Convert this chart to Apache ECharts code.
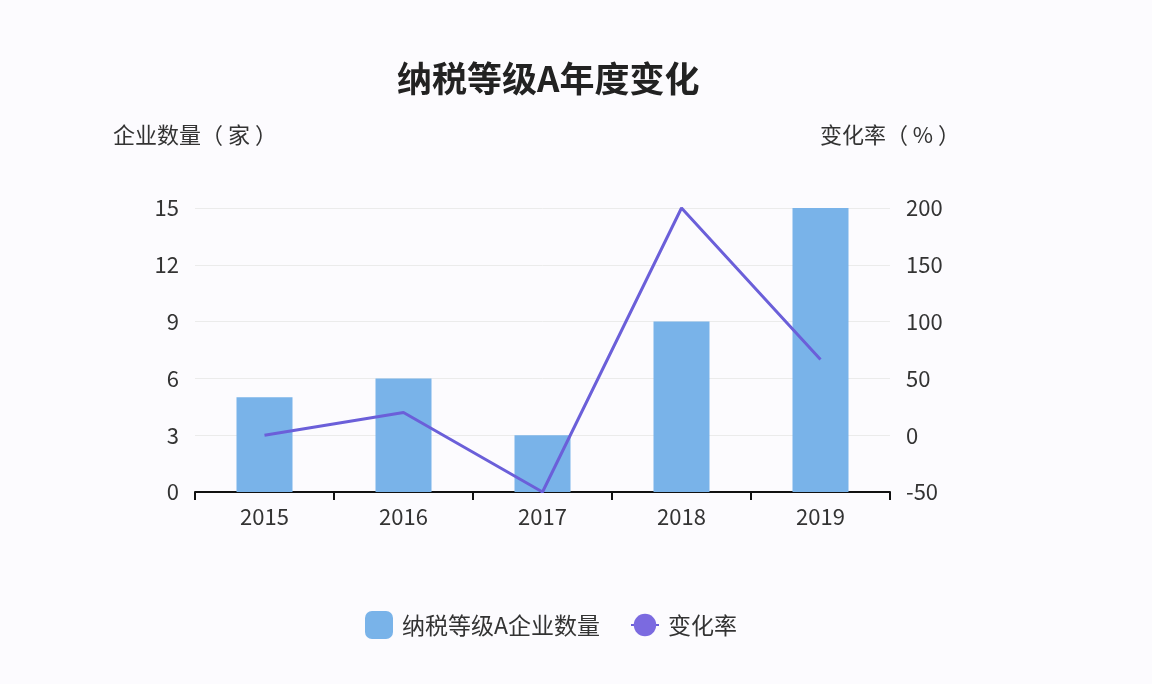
<!DOCTYPE html>
<html>
<head>
<meta charset="utf-8">
<script src="https://cdn.jsdelivr.net/npm/echarts@6/dist/echarts.min.js"></script>
<style>
  html, body { margin: 0; padding: 0; background: #fcfbfe; }
  #main { width: 1152px; height: 684px; }
</style>
</head>
<body>
<div id="main"></div>
<script>
var years = ['2015', '2016', '2017', '2018', '2019'];
var companyCount = [5, 6, 3, 9, 15];
var changeRate = [0, 20, -50, 200, 66.67];

var font = '"Noto Sans CJK SC", "Noto Sans", sans-serif';
var chart = echarts.init(document.getElementById('main'));

var option = {
    backgroundColor: '#fcfbfe',
    textStyle: { fontFamily: font },
    title: {
        text: '纳税等级A年度变化',
        left: 392,
        top: 56,
        textStyle: { fontSize: 35, fontWeight: 'bold', color: '#222', fontFamily: font }
    },
    legend: {
        bottom: 40,
        left: 360,
        itemWidth: 28,
        itemHeight: 28,
        itemGap: 30,
        textStyle: { fontSize: 23, color: '#333', padding: [0, 0, 0, 4] },
        data: [
            { name: '纳税等级A企业数量', icon: 'roundRect' },
            { name: '变化率' }
        ]
    },
    grid: { left: 195, right: 262, top: 208, bottom: 192 },
    xAxis: {
        type: 'category',
        data: years,
        axisLine: { lineStyle: { color: '#111', width: 2 } },
        axisTick: { show: true, length: 8, lineStyle: { color: '#111', width: 2 } },
        axisLabel: { fontSize: 22, color: '#333', margin: 14 }
    },
    yAxis: [{
        type: 'value',
        name: '企业数量（ 家 ）',
        nameGap: 62,
        nameTextStyle: { fontSize: 22, color: '#333' },
        min: 0, max: 15, interval: 3,
        axisLine: { show: false },
        axisTick: { show: false },
        axisLabel: { fontSize: 22, color: '#333', margin: 16 },
        splitLine: { lineStyle: { color: '#ebebeb' } }
    }, {
        type: 'value',
        name: '变化率（ % ）',
        nameGap: 62,
        nameTextStyle: { fontSize: 22, color: '#333' },
        min: -50, max: 200, interval: 50,
        axisLine: { show: false },
        axisTick: { show: false },
        axisLabel: { fontSize: 22, color: '#333', margin: 16 },
        splitLine: { show: false }
    }],
    series: [{
        name: '纳税等级A企业数量',
        type: 'bar',
        data: companyCount,
        barWidth: 56,
        itemStyle: { color: '#79b3e9' }
    }, {
        name: '变化率',
        type: 'line',
        yAxisIndex: 1,
        data: changeRate,
        showSymbol: false,
        symbol: 'circle',
        symbolSize: 10,
        lineStyle: { color: '#6b5fd9', width: 3 },
        itemStyle: { color: '#7b6ae0' }
    }]
};
chart.setOption(option);
</script>
</body>
</html>
